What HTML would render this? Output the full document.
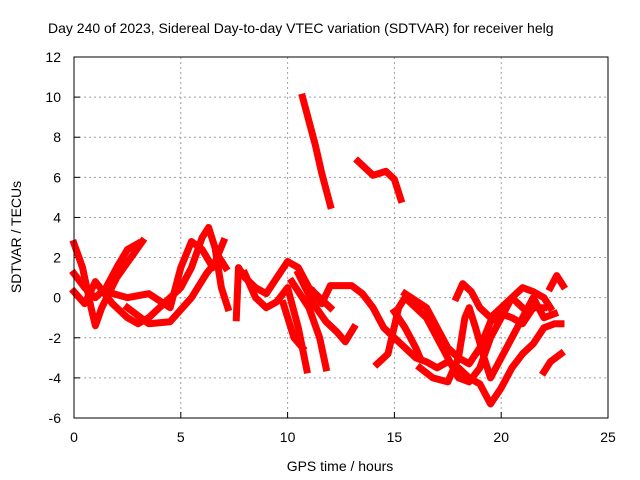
<!DOCTYPE html>
<html><head><meta charset="utf-8"><style>
body{margin:0;background:#fff;}
svg{display:block;font-family:"Liberation Sans",sans-serif;}
</style></head><body>
<svg id="chart" width="640" height="480" viewBox="0 0 640 480">
<rect width="640" height="480" fill="#fff"/>
<text x="48" y="33" font-size="14" fill="#000">Day 240 of 2023, Sidereal Day-to-day VTEC variation (SDTVAR) for receiver helg</text>
<text x="340" y="471" font-size="14" text-anchor="middle">GPS time / hours</text>
<text transform="translate(21,237) rotate(-90)" font-size="14" text-anchor="middle">SDTVAR / TECUs</text>
<g id="grid"></g>
<g id="ticks"></g>
<g id="series"></g>
<rect x="74" y="57" width="534" height="361" fill="none" stroke="#000" stroke-width="1"/>
</svg>
<script>
const xTicks=[0,5,10,15,20,25];
const yTicks=[-6,-4,-2,0,2,4,6,8,10,12];
const track1=[[10.7,10],[11.0,8.8],[11.3,7.6],[11.6,6.2],[11.9,5.0],[12.0,4.6]];
const track2=[[13.3,6.8],[14,6.1],[14.6,6.3],[15.0,5.9],[15.3,4.9]];
const track3=[[0,2.7],[0.4,1.5],[0.8,-0.5],[1.0,-1.4],[1.3,-0.5],[2,1],[2.8,2.2],[3.2,2.8]];
const track4=[[0,1.2],[0.5,0.5],[1,0],[1.5,0.5],[2,1.5],[2.5,2.4],[3,2.7]];
const track5=[[0,0.3],[0.5,-0.3],[1,0.8],[1.8,-0.3],[2.5,-1],[3,-1.3],[3.5,-1.0],[4,-0.5],[5,0.5],[5.5,1.5],[6,3],[6.3,3.5],[6.6,2.5],[6.9,0.5],[7.2,-0.5]];
const track6=[[1.5,0.3],[2.5,0],[3.5,0.2],[4.5,-0.5],[5,1.5],[5.5,2.8],[6,2.4],[6.5,1.5],[7,2.8]];
const track7=[[2.5,-0.5],[3.5,-1.3],[4.5,-1.2],[5.5,0],[6.2,1.2],[6.8,2.0],[7.1,1.5]];
const track8=[[7.6,-1.0],[7.7,1.5],[8,1.0],[8.5,0.5],[9,0.2],[9.5,1.0],[10,1.8],[10.5,1.5],[11,0.5],[11.5,0.0],[12,-0.5]];
const track9=[[8,1.2],[8.5,0],[9,-0.5],[9.5,-0.2],[10,0.5],[10.5,-1.5],[10.9,-3.6]];
const track10=[[9.8,-0.3],[10.3,-2],[10.7,-2.5]];
const track11=[[10.2,0.8],[11,-0.5],[11.5,-2],[11.8,-3.5]];
const track12=[[10.5,1.2],[11.2,-0.3],[11.8,-1.2],[12.3,-1.7],[12.7,-2.2],[13.1,-1.5]];
const track13=[[11.2,0.3],[11.6,-0.3],[12,0.6],[13,0.6],[13.5,0.2],[14,-0.5],[14.5,-1.5],[15,-2.0],[15.5,-2.5],[16,-3],[16.5,-3.2],[17,-3.5],[17.5,-3.2],[18,-3.5],[18.5,-4],[19,-4.3],[19.5,-5.3],[20,-4.5],[20.5,-3.5],[21,-2.8],[21.5,-2.3],[22,-1.5],[22.5,-1.3],[22.8,-1.3]];
const track14=[[14.2,-3.3],[14.7,-2.8],[15.2,-0.5],[15.5,0],[16,-0.5],[16.5,-1],[17,-2],[17.5,-3],[18,-4],[18.5,-4.2],[19,-3.5],[19.5,-2],[20,-1],[20.5,0],[21,0.5],[21.5,0.3],[22,0],[22.3,-0.5]];
const track15=[[15.5,0.2],[16.5,-0.5],[17,-1.5],[17.5,-2.5],[18,-3],[18.5,-3.3],[19,-2.5],[19.5,-1.2],[20,-0.8],[20.5,-1],[21,-1.3],[21.5,-0.5],[22,-0.5]];
const track16=[[16.2,-3.5],[16.8,-4],[17.5,-4.2],[18,-3],[18.3,-1],[18.5,-0.5],[18.8,-1.5],[19.2,-3],[19.5,-4],[20,-3],[20.5,-2],[21,-1],[21.5,0],[22,-1],[22.5,-0.8]];
const track17=[[17.9,0],[18.2,0.7],[18.6,0.3],[19,-0.5],[19.5,-1],[20,-0.5],[20.5,0],[21,-0.5]];
const track18=[[22,-3.7],[22.3,-3.2],[22.8,-2.8]];
const track19=[[22.3,0.5],[22.6,1.1],[22.9,0.6]];
const track20=[[15,-0.7],[15.5,-1.5],[16,-2.5],[16.2,-3]];
const tracks=[track1,track2,track3,track4,track5,track6,track7,track8,track9,track10,track11,track12,track13,track14,track15,track16,track17,track18,track19,track20];

const X0=74,X1=608,Y0=418,Y1=57,xmin=0,xmax=25,ymin=-6,ymax=12;
function sx(v){return X0+(v-xmin)/(xmax-xmin)*(X1-X0);}
function sy(v){return Y0-(v-ymin)/(ymax-ymin)*(Y0-Y1);}
const NS="http://www.w3.org/2000/svg";
function mk(t,a,p){const e=document.createElementNS(NS,t);for(const k in a)e.setAttribute(k,a[k]);p.appendChild(e);return e;}
const grid=document.getElementById('grid'),ticks=document.getElementById('ticks'),series=document.getElementById('series');
xTicks.forEach(v=>{const x=sx(v);
 if(v>xmin&&v<xmax){const g=mk('line',{x1:x,x2:x,y1:Y1,y2:Y0,stroke:'#a0a0a0','stroke-dasharray':'2,3'},grid);
 
 }
 const t=mk('line',{x1:x,x2:x,y1:Y0,y2:Y0-6,stroke:'#000'},ticks);
 
 
 const l=mk('text',{x:x,y:Y0+24,'font-size':14,'text-anchor':'middle'},ticks);l.textContent=v;
 
 
});
yTicks.forEach(v=>{const y=sy(v);
 if(v>ymin&&v<ymax){const g=mk('line',{x1:X0,x2:X1,y1:y,y2:y,stroke:'#a0a0a0','stroke-dasharray':'2,3'},grid);
 
 }
 const t=mk('line',{x1:X0,x2:X0+6,y1:y,y2:y,stroke:'#000'},ticks);
 
 
 const l=mk('text',{x:X0-13,y:y+5,'font-size':14,'text-anchor':'end'},ticks);l.textContent=v;
 
 
});
tracks.forEach(tr=>{
 const p=mk('polyline',{points:tr.map(d=>sx(d[0])+','+sy(d[1])).join(' '),fill:'none',stroke:'#ff0000','stroke-width':7,'stroke-linejoin':'round','stroke-linecap':'square'},series);
 
 
});
</script>
</body></html>
